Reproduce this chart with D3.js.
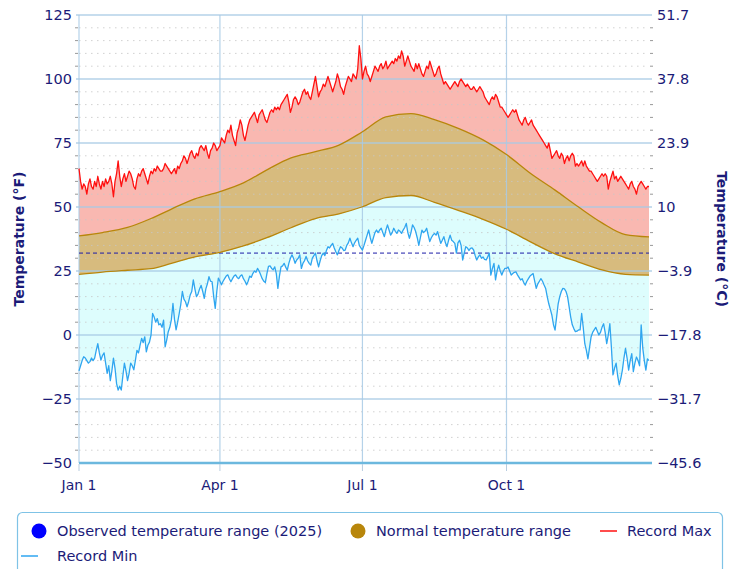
<!DOCTYPE html>
<html>
<head>
<meta charset="utf-8">
<script src="https://cdn.jsdelivr.net/npm/d3@7"></script>
<style>
  html, body { margin: 0; padding: 0; background: #fff; }
  svg { display: block; font-family: "DejaVu Sans", sans-serif; }
</style>
</head>
<body>
<svg id="chart" width="744" height="569"></svg>
<script>
// ---------------- DATA ----------------
const monthTickDays = [0, 90, 181, 273];
const monthTickLabels = ["Jan 1", "Apr 1", "Jul 1", "Oct 1"];
const fTicks = [125, 100, 75, 50, 25, 0, -25, -50];
const cTickLabels = ["51.7", "37.8", "23.9", "10", "\u22123.9", "\u221217.8", "\u221231.7", "\u221245.6"];
const freezingF = 32;

// Daily record maximum (°F), day 0 = Jan 1
const recordMax = [
  65, 60, 57, 59, 58, 55, 59, 61, 58, 57,
  60, 58, 62, 59, 57, 60, 58, 61, 59, 60,
  62, 59, 54, 60, 63, 68, 62, 58, 61, 63,
  60, 62, 64, 63, 61, 58, 57, 61, 63, 62,
  64, 65, 63, 61, 59, 62, 64, 63, 65, 64,
  66, 65, 64, 64, 65, 67, 66, 65, 64, 63,
  64, 65, 63, 66, 65, 67, 68, 70, 69, 67,
  69, 71, 72, 70, 69, 71, 70, 73, 74, 73,
  72, 74, 71, 69, 72, 73, 75, 74, 72, 73,
  74, 77, 76, 75, 78, 80, 79, 82, 78, 76,
  74, 79, 81, 84, 82, 78, 76, 79, 82, 84,
  85, 86, 87, 85, 83, 86, 87, 88, 86, 84,
  83, 85, 87, 88, 87, 89, 88, 89, 88, 90,
  91, 92, 93, 94, 91, 87, 89, 92, 93, 92,
  90, 91, 93, 95, 96, 94, 95, 93, 92, 95,
  98, 101, 97, 93, 95, 96, 98, 97, 99, 101,
  99, 97, 95, 97, 99, 102, 100, 97, 96, 94,
  97, 99, 101, 100, 99, 102, 101, 100, 104, 113,
  108, 100, 103, 105, 102, 101, 99, 101, 103, 105,
  104, 103, 105, 106, 104, 105, 107, 104, 105, 106,
  107, 106, 108, 107, 109, 108, 111, 109, 105, 107,
  109, 107, 105, 104, 103, 106, 104, 106, 104, 102,
  101, 103, 105, 104, 107, 105, 103, 101, 102, 104,
  105, 102, 100, 98, 99, 98, 97, 96, 97, 98,
  99, 98, 97, 99, 100, 99, 98, 97, 98, 97,
  96, 96, 97, 96, 95, 96, 97, 96, 95, 93,
  92, 91, 90, 92, 93, 92, 94, 93, 91, 89,
  89, 88, 87, 86, 85, 86, 87, 88, 87, 88,
  86, 84, 83, 82, 84, 85, 83, 82, 83, 84,
  82, 81, 80, 79, 78, 77, 76, 75, 74, 73,
  75, 72, 69, 70, 71, 72, 70, 69, 71, 70,
  67, 69, 70, 68, 70, 71, 70, 66, 67, 66,
  67, 68, 66, 68, 66, 65, 64, 64, 63, 62,
  61, 60, 61, 62, 63, 62, 63, 62, 57, 60,
  62, 64, 61, 62, 60, 61, 62, 61, 60, 59,
  58, 57, 59, 60, 58, 57, 55, 58, 59, 60,
  59, 58, 57, 58, 58
];

// Daily record minimum (°F)
const recordMin = [
  -14, -12, -10, -8.5, -9, -10, -11, -10.4, -9, -10,
  -9, -6, -3.4, -7, -9.8, -8, -7, -11, -15, -12,
  -17.8, -14, -9, -13, -19, -21.5, -20, -21.5, -16, -11,
  -14, -17.8, -15, -11, -12, -13.6, -10, -6, -7, -4,
  -1.3, -3, -0.7, -6.6, -4, -2.8, 0, 8.4, 7, 5,
  6.4, 4, 4.4, 3, 5.8, -4.6, -2, 1.3, 3, 6,
  12.3, 6, 2, 5, 8.4, 12, 17, 14, 13, 11,
  13, 15.6, 17, 21.5, 18, 15, 16, 18, 19.4, 17,
  14.3, 18, 20, 22.8, 21, 20.8, 15, 10.4, 17, 22.2,
  21, 19.6, 21, 22, 23, 23.5, 22, 20.8, 22, 23,
  23.5, 22.5, 22, 23, 23.5, 22, 21, 19.6, 21, 23,
  22.5, 24, 25, 24.5, 26, 25, 23.5, 22, 21, 20.5,
  24, 26.8, 27, 26, 25.5, 26.6, 24, 18.2, 23, 26.6,
  27, 28, 26.5, 25.3, 28, 30, 31.3, 30, 28, 29.3,
  30, 31.3, 26, 28, 29, 30.7, 29, 28, 27.3, 30,
  31, 32, 29, 26.6, 29, 31, 32, 31, 33, 34.5,
  34, 35, 35.8, 34, 32.5, 31.3, 33, 34.5, 34, 33,
  33.2, 35, 36, 37.8, 36, 34.5, 36, 37, 37.8, 35,
  34, 33.2, 35, 37, 39, 41, 38, 35.8, 38, 40,
  41, 40, 41, 41.7, 40, 38.4, 41, 43, 41, 39,
  40, 41.7, 40.5, 39.7, 41, 40.5, 39.7, 41, 42, 43.6,
  40, 37.8, 40, 43, 42, 40.4, 38, 35, 38, 41,
  40, 40.5, 41.7, 39, 36.5, 38, 39, 39.7, 39, 40.4,
  38, 35.8, 37, 38.4, 36, 34.5, 37, 39, 37, 36.5,
  35.8, 32, 36, 37, 35, 29.3, 32, 34.5, 34, 33,
  33.8, 34, 33.2, 31, 29.3, 30.5, 31.3, 30, 30.5, 29.5,
  29.3, 30.5, 32, 23.4, 26, 28, 21.5, 25, 27.3, 25,
  23.4, 25, 26, 26, 26.6, 25, 23.4, 24, 24.5, 24.7,
  23.5, 22.5, 21.5, 22, 20.5, 19.5, 21, 22, 23, 23.5,
  24, 21, 18.2, 20, 21, 22, 21, 19.5, 18.2, 15,
  12.2, 10, 7.7, 4, 1.9, 7, 12.2, 15, 17, 18.2,
  18, 17, 15, 11, 7, 4, 2.5, 1.3, 1.5, 2,
  2, 8.4, 3, -3.4, -6, -9.3, -5, -0.8, 1, 2,
  3, 1.5, 0, 1, 3, 4.4, 1, -3.4, 0, 4.4,
  -5, -15.6, -13, -11, -16, -19.5, -17, -13.7, -9, -5.2,
  -9, -13.7, -10, -7.3, -14.3, -11, -8.6, -10, -12, 3.9,
  -5, -10, -13.7, -9.3, -10
];

// Normal high / low (°F) at sampled days
const normalDays = [0, 15, 31, 46, 59, 74, 90, 105, 120, 135, 151, 166, 181, 196, 212, 227, 243, 258, 273, 288, 304, 319, 334, 349, 364];
const normalHigh = [38.7, 40, 42, 45.5, 49.2, 53.2, 56, 59.4, 64.5, 69.1, 71.6, 74.2, 79.4, 85.2, 86.5, 84.1, 80.5, 76.2, 70.5, 63.3, 56.6, 50, 43.8, 39.2, 38.3];
const normalLow  = [23.7, 24.6, 25.3, 25.9, 28, 30.5, 32.3, 34.8, 38, 41.8, 45.5, 47.3, 50.1, 53.7, 54.5, 51.8, 48.5, 45.2, 41.3, 36.5, 31.7, 28.5, 25.4, 23.7, 23.4];

const legendItems = ["Observed temperature range (2025)", "Normal temperature range", "Record Max", "Record Min"];

// ---------------- DRAW ----------------
(function draw() {
const svg = d3.select("#chart");
const pLeft = 79, pRight = 649, pTop = 15, pBottom = 463;
const textColor = "#1b1b78";

const x = d3.scaleLinear().domain([0, 364]).range([pLeft, pRight]);
const y = d3.scaleLinear().domain([-50, 125]).range([pBottom, pTop]);

const days = recordMax.map((_, i) => i);
const normals = normalDays.map((d, i) => ({d, hi: normalHigh[i], lo: normalLow[i]}));
const curve = d3.curveMonotoneX;

const defs = svg.append("defs");
defs.append("clipPath").attr("id", "belowNormalLow")
  .append("path")
  .attr("d", d3.area().x(p => x(p.d)).y0(y(-50)).y1(p => y(p.lo)).curve(curve)(normals));

// pink record range
svg.append("path")
  .attr("d", d3.area().x(i => x(i)).y0(i => y(recordMin[i])).y1(i => y(recordMax[i]))(days))
  .attr("fill", "#f9b8b1");

// cyan: above record min, below normal low
svg.append("path")
  .attr("clip-path", "url(#belowNormalLow)")
  .attr("d", d3.area().x(i => x(i)).y0(i => y(recordMin[i])).y1(y(125))(days))
  .attr("fill", "#ddfdfd");

// tan normal range
svg.append("path")
  .attr("d", d3.area().x(p => x(p.d)).y0(p => y(p.lo)).y1(p => y(p.hi)).curve(curve)(normals))
  .attr("fill", "#d7bb7e");

// minor dotted gridlines
const minorTicks = d3.range(-45, 125, 5).filter(v => v % 25 !== 0);
svg.append("g").selectAll("line").data(minorTicks).join("line")
  .attr("x1", pLeft).attr("x2", pRight)
  .attr("y1", d => y(d)).attr("y2", d => y(d))
  .attr("stroke", "#c8c8c8").attr("stroke-width", 1).attr("stroke-dasharray", "1.5,4.5")
  .attr("opacity", 0.8);
svg.append("g").selectAll("line").data(minorTicks).join("line")
  .attr("x1", pLeft - 4).attr("x2", pLeft - 1)
  .attr("y1", d => y(d)).attr("y2", d => y(d))
  .attr("stroke", "#999").attr("stroke-width", 1);
svg.append("g").selectAll("line").data(minorTicks).join("line")
  .attr("x1", pRight + 1).attr("x2", pRight + 4)
  .attr("y1", d => y(d)).attr("y2", d => y(d))
  .attr("stroke", "#999").attr("stroke-width", 1);

// major horizontal gridlines
svg.append("g").selectAll("line").data(fTicks.filter(v => v !== -50)).join("line")
  .attr("x1", pLeft - 3).attr("x2", pRight + 3)
  .attr("y1", d => y(d)).attr("y2", d => y(d))
  .attr("stroke", "#a9cbe6").attr("stroke-width", 1.5).attr("opacity", 0.85);

// vertical gridlines
svg.append("g").selectAll("line").data(monthTickDays).join("line")
  .attr("x1", d => x(d)).attr("x2", d => x(d))
  .attr("y1", pTop).attr("y2", pBottom)
  .attr("stroke", "#a9cbe6").attr("stroke-width", 1.2).attr("opacity", 0.85);

// freezing line
svg.append("line")
  .attr("x1", pLeft).attr("x2", pRight)
  .attr("y1", y(freezingF)).attr("y2", y(freezingF))
  .attr("stroke", "#1c1ca8").attr("stroke-width", 1).attr("stroke-dasharray", "4,3");

// normal edge lines
svg.append("path")
  .attr("d", d3.line().x(p => x(p.d)).y(p => y(p.hi)).curve(curve)(normals))
  .attr("fill", "none").attr("stroke", "#b8860b").attr("stroke-width", 1.3);
svg.append("path")
  .attr("d", d3.line().x(p => x(p.d)).y(p => y(p.lo)).curve(curve)(normals))
  .attr("fill", "none").attr("stroke", "#b8860b").attr("stroke-width", 1.3);

// record lines
svg.append("path")
  .attr("d", d3.line().x(i => x(i)).y(i => y(recordMax[i]))(days))
  .attr("fill", "none").attr("stroke", "#ff1010").attr("stroke-width", 1.3).attr("stroke-linejoin", "round");
svg.append("path")
  .attr("d", d3.line().x(i => x(i)).y(i => y(recordMin[i]))(days))
  .attr("fill", "none").attr("stroke", "#2fa6f0").attr("stroke-width", 1.3).attr("stroke-linejoin", "round");

// x axis baseline
svg.append("line")
  .attr("x1", pLeft).attr("x2", pRight + 3)
  .attr("y1", pBottom).attr("y2", pBottom)
  .attr("stroke", "#6cb8de").attr("stroke-width", 2.5);
svg.append("g").selectAll("line").data(monthTickDays).join("line")
  .attr("x1", d => x(d)).attr("x2", d => x(d))
  .attr("y1", pBottom + 1).attr("y2", pBottom + 8)
  .attr("stroke", "#b8cde0").attr("stroke-width", 1);
svg.append("g").selectAll("text").data(monthTickDays).join("text")
  .attr("x", d => x(d)).attr("y", 490)
  .attr("text-anchor", "middle").attr("font-size", 14).attr("fill", textColor)
  .text((d, i) => monthTickLabels[i]);

// left tick labels
svg.append("g").selectAll("text").data(fTicks).join("text")
  .attr("x", 72).attr("y", d => y(d) + 5)
  .attr("text-anchor", "end").attr("font-size", 14.5).attr("fill", textColor)
  .text(d => d < 0 ? "\u2212" + Math.abs(d) : String(d));
// right tick labels
svg.append("g").selectAll("text").data(fTicks).join("text")
  .attr("x", 657).attr("y", d => y(d) + 5)
  .attr("text-anchor", "start").attr("font-size", 14.5).attr("fill", textColor)
  .text((d, i) => cTickLabels[i]);

// axis titles
svg.append("text")
  .attr("transform", `translate(24,${(pTop + pBottom) / 2}) rotate(-90)`)
  .attr("text-anchor", "middle").attr("font-size", 14).attr("font-weight", "bold").attr("fill", textColor)
  .text("Temperature (°F)");
svg.append("text")
  .attr("transform", `translate(717,${(pTop + pBottom) / 2}) rotate(90)`)
  .attr("text-anchor", "middle").attr("font-size", 14).attr("font-weight", "bold").attr("fill", textColor)
  .text("Temperature (°C)");

// legend
const lg = svg.append("g");
lg.append("rect").attr("x", 17.5).attr("y", 512.5).attr("width", 705).attr("height", 80)
  .attr("rx", 5).attr("fill", "#fff").attr("stroke", "#7fc3e6").attr("stroke-width", 1.2);
lg.append("circle").attr("cx", 39).attr("cy", 531).attr("r", 7.5).attr("fill", "#0000ff");
lg.append("text").attr("x", 57).attr("y", 536).attr("font-size", 14.5).attr("fill", textColor).text(legendItems[0]);
lg.append("circle").attr("cx", 358).attr("cy", 531).attr("r", 7.5).attr("fill", "#b8860b");
lg.append("text").attr("x", 376).attr("y", 536).attr("font-size", 14.5).attr("fill", textColor).text(legendItems[1]);
lg.append("line").attr("x1", 600).attr("x2", 617).attr("y1", 531).attr("y2", 531).attr("stroke", "#ff1010").attr("stroke-width", 1.5);
lg.append("text").attr("x", 627).attr("y", 536).attr("font-size", 14.5).attr("fill", textColor).text(legendItems[2]);
lg.append("line").attr("x1", 21).attr("x2", 38).attr("y1", 556).attr("y2", 556).attr("stroke", "#2fa6f0").attr("stroke-width", 1.5);
lg.append("text").attr("x", 57).attr("y", 561).attr("font-size", 14.5).attr("fill", textColor).text(legendItems[3]);
})();
</script>
</body>
</html>
